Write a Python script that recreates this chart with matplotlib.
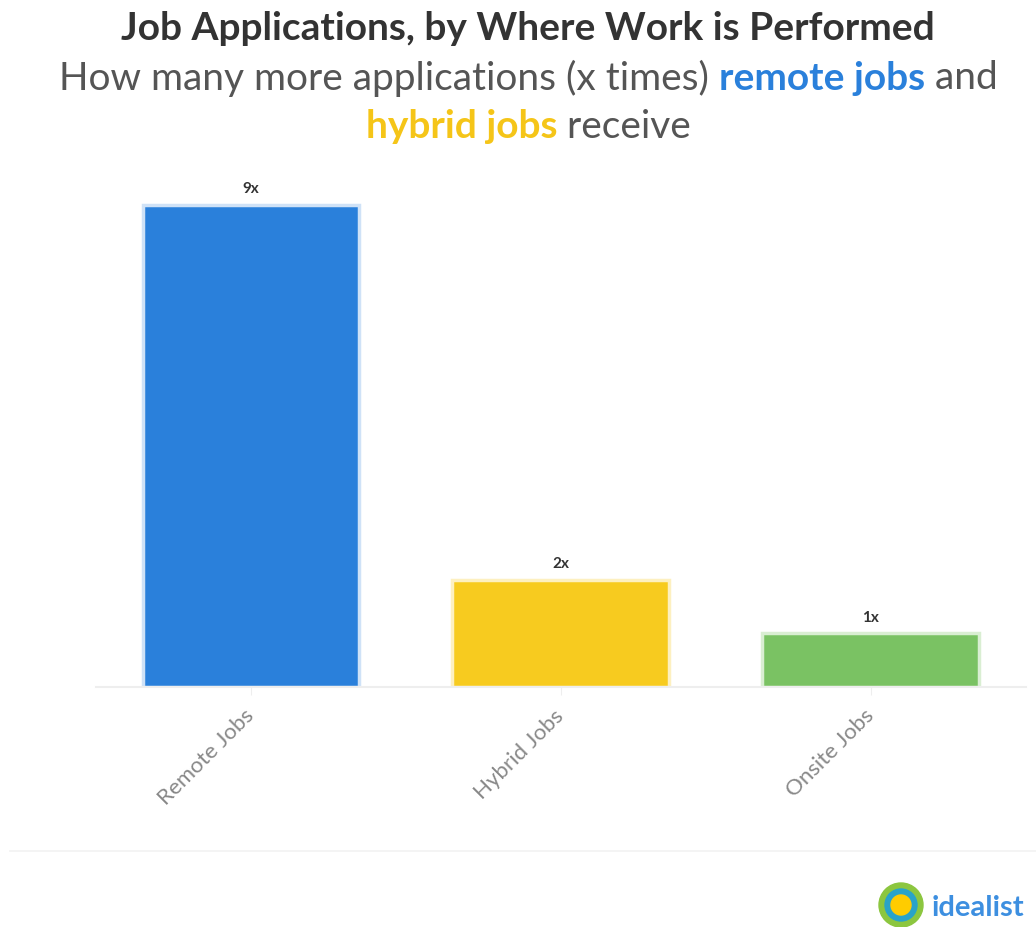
import matplotlib.pyplot as plt
from matplotlib.patches import Circle

plt.rcParams['font.family'] = ['Lato', 'DejaVu Sans']

# data
categories = ["Remote Jobs", "Hybrid Jobs", "Onsite Jobs"]
values = [9, 2, 1]
value_labels = ["9x", "2x", "1x"]
colors = ["#2a80db", "#f7cb1f", "#7ac263"]
edge_colors = ["#cfe2f7", "#fdf0c0", "#d9eed2"]

fig = plt.figure(figsize=(10.36, 9.28), dpi=100)
ax = fig.add_axes([0.0927, 0.2586, 0.8973, 0.5582])

x = range(len(categories))
ax.bar(x, values, width=0.7, color=colors, edgecolor=edge_colors, linewidth=2.5)
for xi, v, lab in zip(x, values, value_labels):
    ax.annotate(lab, (xi, v), xytext=(0, 7), textcoords="offset points",
                ha="center", va="bottom", fontsize=11, fontweight="bold", color="#333333")

ax.set_xlim(-0.5, 2.5)
ax.set_ylim(0, 9.67)
ax.set_yticks([])
ax.set_xticks(list(x))
ax.set_xticklabels(categories, rotation=45, ha="right", va="center",
                   rotation_mode="anchor", fontsize=16, color="#888888")
ax.tick_params(axis="x", length=6, color="#eeeeee", pad=12)
for side in ["top", "right", "left"]:
    ax.spines[side].set_visible(False)
ax.spines["bottom"].set_color("#eeeeee")
ax.spines["bottom"].set_linewidth(1.5)

# title (centred a little right of the middle, like the original)
cx = 0.51
fig.text(cx, 1 - 28 / 928, "Job Applications, by Where Work is Performed",
         ha="center", va="center", fontsize=28, fontweight="bold", color="#333333")


# subtitle with coloured words
def rich_line(parts, y, size=28):
    renderer = fig.canvas.get_renderer()
    texts = []
    for s, c, w in parts:
        t = fig.text(0, y, s, ha="left", va="center", fontsize=size, color=c, fontweight=w)
        texts.append(t)
    widths = [t.get_window_extent(renderer).width for t in texts]
    total = sum(widths)
    W = fig.bbox.width
    start = cx * W - total / 2
    for t, w in zip(texts, widths):
        t.set_x(start / W)
        start += w


rich_line([("How many more applications (x times) ", "#555555", "normal"),
           ("remote jobs", "#2a80db", "bold"),
           (" and", "#555555", "normal")], 1 - 78 / 928)
rich_line([("hybrid jobs", "#f5c518", "bold"),
           (" receive", "#555555", "normal")], 1 - 127 / 928)

# separator line
fig.add_artist(plt.Line2D([0.01, 1.0], [1 - 852 / 928, 1 - 852 / 928],
                          color="#f2f2f2", linewidth=1.2))

# logo
fw, fh = 1036, 928
for r, c in [(22, "#8cc63f"), (16, "#29a3c9"), (10, "#ffcc00")]:
    fig.add_artist(Circle((901, fh - 906), r, transform=None, color=c))
fig.text(932 / fw, 1 - 908 / fh, "idealist", ha="left", va="center", fontsize=21,
         fontweight="bold", color="#3d8fe0")

fig.savefig("out.png", dpi=100, facecolor="white")
